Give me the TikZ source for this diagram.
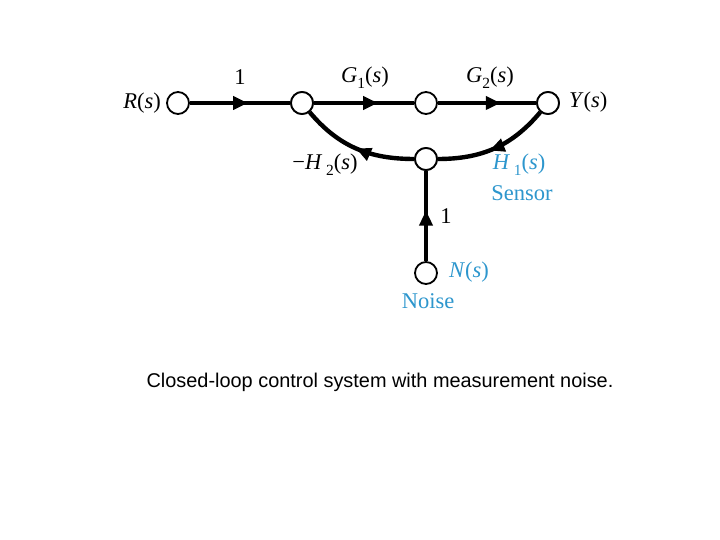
\documentclass[tikz,border=0pt]{standalone}
\usepackage{fontspec}
\setmainfont{Liberation Serif}
\newfontfamily\capfont{Liberation Sans}
\usetikzlibrary{arrows.meta,decorations.markings}
\definecolor{lblue}{RGB}{45,150,205}
\newcommand{\sbs}[1]{\raisebox{-0.28em}{\fontsize{15.5}{15}\selectfont #1}}
\tikzset{
  snode/.style={circle,draw,line width=1.8pt,minimum size=22pt,inner sep=0pt,fill=white},
  branch/.style={line width=4.4pt},
  flow/.style={decoration={markings,mark=at position #1 with {\arrow{Triangle[length=15pt,width=13pt]}}},postaction={decorate}},
  flow/.default=0.58,
  lbl/.style={font=\fontsize{22.5}{24}\selectfont,inner sep=0pt},
  blbl/.style={lbl,text=lblue}
}
\begin{document}
\begin{tikzpicture}[x=1pt,y=1pt]
\useasboundingbox (0,0) rectangle (720,540);
\node[snode] (r) at (178,437) {};
\node[snode] (a) at (302,437) {};
\node[snode] (b) at (426,437) {};
\node[snode] (y) at (548,437) {};
\node[snode] (c) at (426,381) {};
\node[snode] (n) at (426,267) {};
\draw[branch,flow] (r) -- (a);
\draw[branch,flow=0.64] (a) -- (b);
\draw[branch,flow=0.64] (b) -- (y);
\draw[branch,flow=0.55] (y) to[out=-130,in=0] (c);
\draw[branch,flow=0.5] (c) to[out=180,in=-50] (a);
\draw[branch,flow=0.56] (n) -- (c);
\node[snode] at (c) {};
\node[snode] at (a) {};
\node[snode] at (y) {};
\node[lbl,anchor=east] (rl) at (161,437) {\textit{R}(\textit{s})};
\node[lbl] (l1) at (240,463) {1};
\node[lbl] (g1) at (365,462) {\textit{G}\sbs{1}(\textit{s})};
\node[lbl] (g2) at (490,462) {\textit{G}\sbs{2}(\textit{s})};
\node[lbl,anchor=west] (yl) at (569,438) {\textit{Y}(\textit{s})};
\node[lbl] (h2) at (325,375) {−\textit{H}\,\sbs{2}(\textit{s})};
\node[blbl] (h1) at (519,375) {\textit{H}\,\sbs{1}(\textit{s})};
\node[blbl] (sen) at (522,347) {Sensor};
\node[lbl] (l2) at (446,324) {1};
\node[blbl] (nl) at (469,268) {\textit{N}(\textit{s})};
\node[blbl] (noi) at (428,239) {Noise};
\node[font=\capfont\fontsize{19.9}{22}\selectfont,inner sep=0pt] (cap) at (380,158) {Closed-loop control system with measurement noise.};
\end{tikzpicture}
\end{document}
